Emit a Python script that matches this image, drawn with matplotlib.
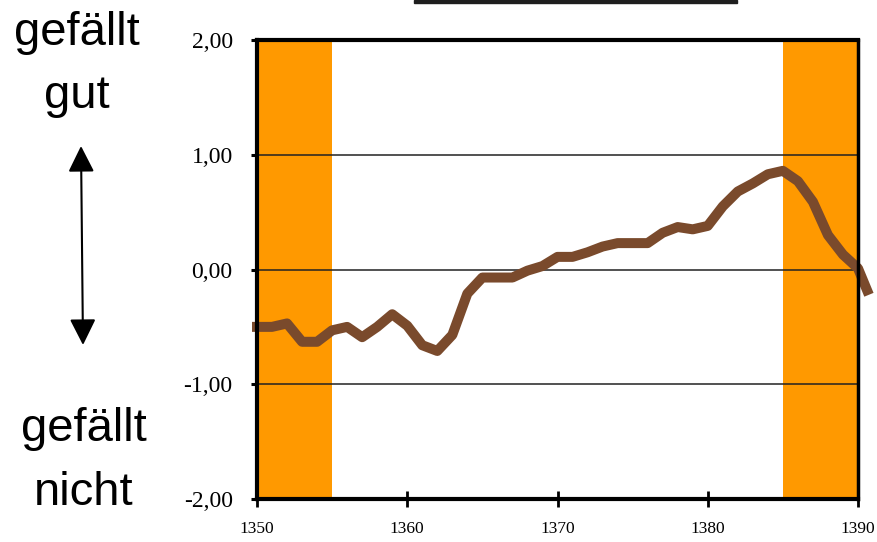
import matplotlib
matplotlib.use("Agg")
import matplotlib.pyplot as plt
from matplotlib.patches import Rectangle, FancyArrowPatch

years = [1350, 1351, 1352, 1353, 1354, 1355, 1356, 1357, 1358, 1359,
         1360, 1361, 1362, 1363, 1364, 1365, 1366, 1367, 1368, 1369,
         1370, 1371, 1372, 1373, 1374, 1375, 1376, 1377, 1378, 1379,
         1380, 1381, 1382, 1383, 1384, 1385, 1386, 1387, 1388, 1389,
         1390, 1390.6]
values = [-0.50, -0.50, -0.47, -0.63, -0.63, -0.53, -0.50, -0.59, -0.50, -0.39,
          -0.49, -0.66, -0.71, -0.57, -0.21, -0.07, -0.07, -0.07, -0.01, 0.03,
          0.11, 0.11, 0.15, 0.20, 0.23, 0.23, 0.23, 0.32, 0.37, 0.35,
          0.38, 0.55, 0.68, 0.75, 0.83, 0.86, 0.77, 0.59, 0.30, 0.13,
          0.01, -0.18]
bands = [(1350, 1355), (1385, 1390)]
yticks = [-2, -1, 0, 1, 2]
ytick_labels = ["-2,00", "-1,00", "0,00", "1,00", "2,00"]
xticks = [1350, 1360, 1370, 1380, 1390]
xtick_labels = ["1350", "1360", "1370", "1380", "1390"]

W, H = 878, 542
fig = plt.figure(figsize=(W / 100, H / 100), dpi=100)
fig.patch.set_facecolor("white")
ax = fig.add_axes([257 / W, 1 - 499 / H, (858 - 257) / W, (499 - 40) / H])

for a, b in bands:
    ax.axvspan(a, b, color="#FF9900", lw=0, zorder=1)
for yv in [-1, 0, 1]:
    ax.axhline(yv, color="#222222", lw=1.1, zorder=2)

ax.plot(years, values, color="#7A4A2C", lw=7.2, solid_joinstyle="round",
        solid_capstyle="projecting", clip_on=False, zorder=5)

ax.set_xlim(1350, 1390)
ax.set_ylim(-2, 2)
ax.set_yticks(yticks)
ax.set_yticklabels(ytick_labels, fontfamily="Liberation Serif", fontsize=17)
ax.set_xticks(xticks)
ax.set_xticklabels(xtick_labels, fontfamily="Liberation Serif", fontsize=12.5)
ax.tick_params(axis="y", direction="out", length=4.5, width=2.2, pad=13)
ax.tick_params(axis="x", direction="inout", length=12, width=2.0, pad=10)

for side in ["left", "bottom", "top"]:
    ax.spines[side].set_linewidth(3)
    ax.spines[side].set_color("black")
ax.spines["right"].set_linewidth(2.5)
ax.spines["right"].set_color("black")
for s in ax.spines.values():
    s.set_zorder(6)

# dark bar at top (cut-off element)
fig.patches.append(Rectangle((414 / W, 1 - 3 / H), (737 - 414) / W, 3 / H,
                             transform=fig.transFigure, color="#1E1E1E", zorder=0))

fig.text(77 / W, 1 - 45 / H, "gefällt", ha="center", va="baseline",
         fontfamily="Liberation Sans", fontsize=34)
fig.text(77 / W, 1 - 108 / H, "gut", ha="center", va="baseline",
         fontfamily="Liberation Sans", fontsize=34)
fig.text(84 / W, 1 - 441 / H, "gefällt", ha="center", va="baseline",
         fontfamily="Liberation Sans", fontsize=34)
fig.text(84 / W, 1 - 505 / H, "nicht", ha="center", va="baseline",
         fontfamily="Liberation Sans", fontsize=34)

arrow = FancyArrowPatch((81 / W, 1 - 146 / H), (83 / W, 1 - 345 / H),
                        transform=fig.transFigure,
                        arrowstyle="<|-|>,head_length=0.8,head_width=0.4",
                        mutation_scale=20, lw=1.5, color="black",
                        shrinkA=0, shrinkB=0)
fig.patches.append(arrow)

fig.savefig("out.png", dpi=100)
